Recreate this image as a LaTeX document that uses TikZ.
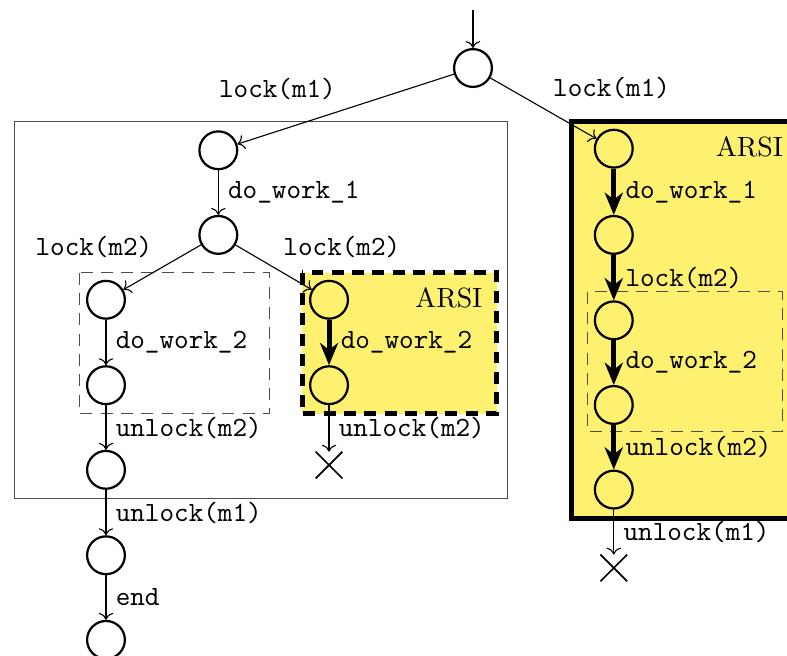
\documentclass[tikz,border=0pt]{standalone}
\usetikzlibrary{shapes.misc,arrows.meta}
\definecolor{arsiyellow}{HTML}{FFF170}
\tikzset{
  state/.style={circle,draw,thick,minimum size=13.6pt,inner sep=0pt},
  deadend/.style={cross out,draw,semithick,minimum size=9pt,inner sep=0pt},
  lbl/.style={font=\ttfamily},
  arsibox/.style={fill=arsiyellow,draw,line width=1.8pt},
  lockbox/.style={draw=black!70,dash pattern=on 4.3pt off 3pt},
  hot/.style={line width=1.8pt,-{Stealth[length=8pt,width=6.5pt,inset=2.5pt]}},
}
\begin{document}
\begin{tikzpicture}
\useasboundingbox (0,0) rectangle (9.95,-8.29);

% regions
\draw[black!70] (0.18,-1.54) rectangle (6.42,-6.30);
\draw[lockbox] (1.00,-3.45) rectangle (3.41,-5.23);
\draw[arsibox,dash pattern=on 4.3pt off 3pt] (3.82,-3.45) rectangle (6.28,-5.23);
\draw[arsibox] (7.22,-1.54) rectangle (10.08,-6.55);
\draw[lockbox] (7.43,-3.69) rectangle (9.89,-5.46);
\node[anchor=north east,inner sep=5pt] (arsi1) at (6.28,-3.45) {ARSI};
\node[anchor=north east,inner sep=5pt] (arsi2) at (10.08,-1.54) {ARSI};

% states
\coordinate (entry) at (5.98,-0.13);
\node[state] (root) at (5.98,-0.86) {};
\node[state] (a1) at (2.76,-1.90) {};
\node[state] (a2) at (2.76,-2.97) {};
\node[state] (b1) at (1.34,-3.79) {};
\node[state] (b2) at (1.34,-4.87) {};
\node[state] (b3) at (1.34,-5.94) {};
\node[state] (b4) at (1.34,-7.02) {};
\node[state] (b5) at (1.34,-8.09) {};
\node[state] (c1) at (4.16,-3.79) {};
\node[state] (c2) at (4.16,-4.87) {};
\node[deadend] (cx) at (4.16,-5.88) {};
\node[state] (r1) at (7.76,-1.88) {};
\node[state] (r2) at (7.76,-2.97) {};
\node[state] (r3) at (7.76,-4.05) {};
\node[state] (r4) at (7.76,-5.12) {};
\node[state] (r5) at (7.76,-6.19) {};
\node[deadend] (rx) at (7.76,-7.18) {};

% transitions
\draw[->] (entry) -- (root);
\draw[->] (root) -- node[lbl,above left] (t1) {lock(m1)} (a1);
\draw[->] (root) -- node[lbl,above right] (t2) {lock(m1)} (r1);
\draw[->] (a1) -- node[lbl,right] (t3) {do\_work\_1} (a2);
\draw[->] (a2) -- node[lbl,above left] (t4) {lock(m2)} (b1);
\draw[->] (a2) -- node[lbl,above right] (t5) {lock(m2)} (c1);
\draw[->] (b1) -- node[lbl,right] (t6) {do\_work\_2} (b2);
\draw[->] (b2) -- node[lbl,right] (t7) {unlock(m2)} (b3);
\draw[->] (b3) -- node[lbl,right] (t8) {unlock(m1)} (b4);
\draw[->] (b4) -- node[lbl,right] (t9) {end} (b5);
\draw[hot] (c1) -- node[lbl,right] (t10) {do\_work\_2} (c2);
\draw[->] (c2) -- node[lbl,right] (t11) {unlock(m2)} (cx);
\draw[hot] (r1) -- node[lbl,right] (t12) {do\_work\_1} (r2);
\draw[hot] (r2) -- node[lbl,right] (t13) {lock(m2)} (r3);
\draw[hot] (r3) -- node[lbl,right] (t14) {do\_work\_2} (r4);
\draw[hot] (r4) -- node[lbl,right] (t15) {unlock(m2)} (r5);
\draw[->] (r5) -- node[lbl,right] (t16) {unlock(m1)} (rx);
\end{tikzpicture}
\end{document}
